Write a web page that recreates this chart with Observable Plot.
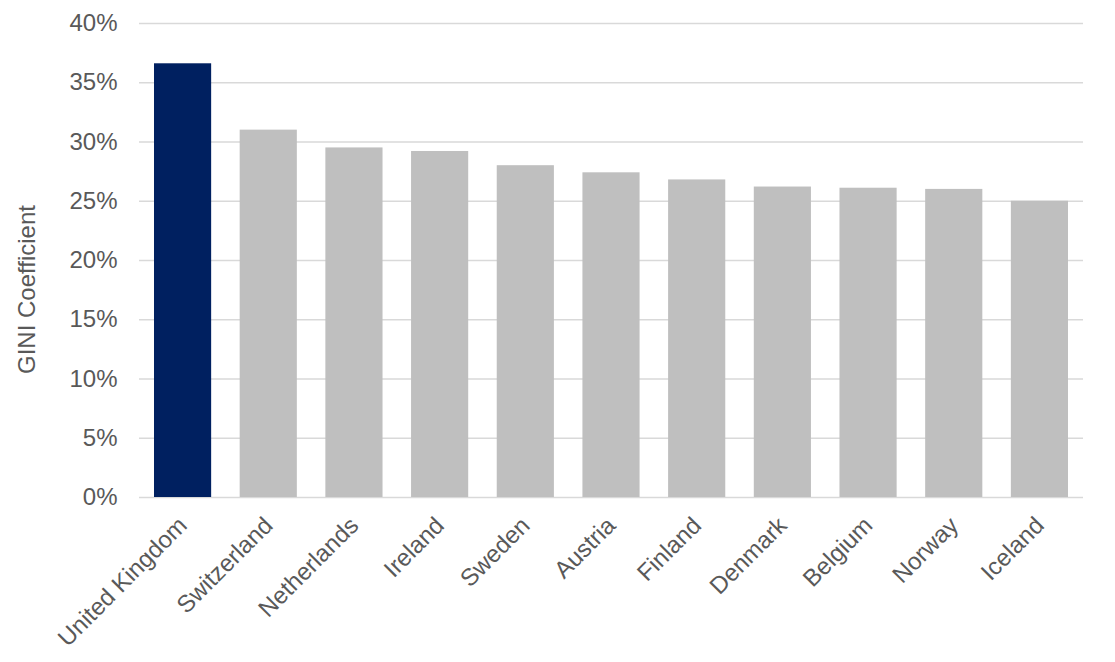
<!DOCTYPE html>
<html>
<head>
<meta charset="utf-8">
<script src="https://cdn.jsdelivr.net/npm/d3@7"></script>
<script src="https://cdn.jsdelivr.net/npm/@observablehq/plot@0.6"></script>
<style>
  html, body { margin: 0; padding: 0; background: #ffffff; }
  #chart { width: 1115px; height: 662px; }
</style>
</head>
<body>
<div id="chart"></div>
<script>
const countries = ["United Kingdom", "Switzerland", "Netherlands", "Ireland", "Sweden", "Austria", "Finland", "Denmark", "Belgium", "Norway", "Iceland"];
const gini = [0.366, 0.310, 0.295, 0.292, 0.280, 0.274, 0.268, 0.262, 0.261, 0.260, 0.250];
const highlight = ["United Kingdom"];
const yTicks = [0, 0.05, 0.10, 0.15, 0.20, 0.25, 0.30, 0.35, 0.40];
const yTitle = "GINI Coefficient";

const data = countries.map((c, i) => ({country: c, value: gini[i], hl: highlight.includes(c)}));

const chart = Plot.plot({
  width: 1115,
  height: 662,
  marginLeft: 139,
  marginRight: 32,
  marginTop: 23,
  marginBottom: 165,
  style: {fontFamily: "'Liberation Sans', Arial, sans-serif", fontSize: "24px", color: "#595959", background: "#ffffff"},
  x: {domain: countries, paddingInner: 0.333, paddingOuter: 0.175, round: false, label: null},
  y: {domain: [0, 0.40], label: null},
  marks: [
    Plot.gridY(yTicks, {stroke: "#d9d9d9", strokeOpacity: 1, strokeWidth: 1.5}),
    Plot.barY(data, {x: "country", y: "value", fill: d => d.hl ? "#002060" : "#bfbfbf"}),
    Plot.axisY(yTicks, {tickSize: 0, tickPadding: 22, tickFormat: d3.format(".0%"), fill: "#595959", fontSize: 24, label: null}),
    Plot.axisX({tickSize: 0, tickPadding: 24, tickRotate: -45, fill: "#595959", fontSize: 24, label: null}),
    Plot.text([yTitle], {frameAnchor: "left", rotate: -90, dx: -112, dy: 29, fill: "#595959", fontSize: 24, lineAnchor: "middle", textAnchor: "middle"})
  ]
});
document.getElementById("chart").appendChild(chart);
</script>
</body>
</html>
